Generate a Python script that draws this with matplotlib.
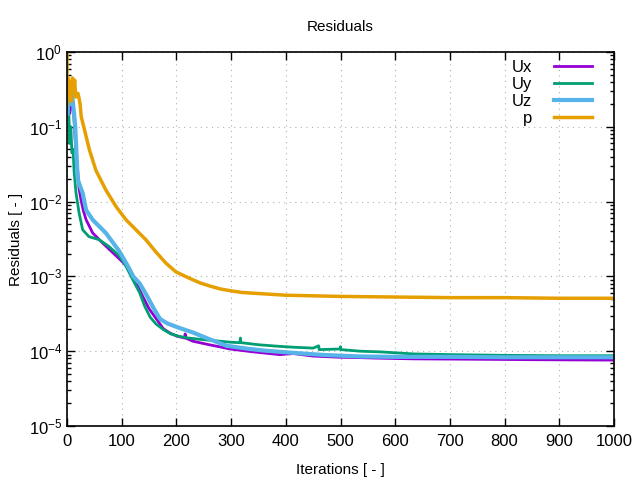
import numpy as np
import matplotlib
matplotlib.use("Agg")
import matplotlib.pyplot as plt
from matplotlib.ticker import LogLocator, LogFormatterSciNotation, NullFormatter, MultipleLocator

# Residual histories
ux_iter = [1, 5, 10, 13, 16, 19.5, 22, 25.6, 30, 35, 47, 65, 83, 102, 115, 127, 139, 150,
           165, 176, 188, 200, 215, 216, 217, 230, 260, 280, 298, 340, 389, 414, 450, 499, 536,
           560, 633, 750, 850, 1000]
ux_res = [0.2, 0.15, 0.25, 0.12, 0.05, 0.026, 0.015, 0.0105, 0.0075, 0.0057, 0.0038, 0.0028,
          0.0021, 0.00155, 0.00122, 0.0008, 0.00053, 0.00037, 0.00026, 0.0002, 0.000175,
          0.00016, 0.00015, 0.00017, 0.00015, 0.000136, 0.000122, 0.000114, 0.000107, 9.8e-5,
          9.0e-5, 9.3e-5, 8.6e-5, 8.3e-5, 8.2e-5, 8.1e-5, 7.9e-5, 7.8e-5, 7.7e-5, 7.6e-5]

uy_iter = [1, 3, 5, 7, 9, 11, 13, 16.5, 22, 28.6, 40, 58.6, 77, 95, 105, 113, 124,
           133, 142, 152, 163, 176, 190, 205, 219, 240, 270, 298, 316, 317, 318, 350, 389, 414,
           450, 460, 461, 499, 500, 501, 536, 572, 633, 700, 800, 900, 1000]
uy_res = [0.25, 0.18, 0.06, 0.1, 0.045, 0.05, 0.025, 0.013, 0.0071, 0.0042, 0.0034, 0.0031,
          0.0025, 0.0019, 0.0015, 0.00115, 0.0008, 0.0006, 0.0004,
          0.000285, 0.00023, 0.000195, 0.00017, 0.000158, 0.000151, 0.000145, 0.000138, 0.000132,
          0.00013, 0.00015, 0.00013, 0.000122, 0.000116, 0.000113, 0.00011, 0.000118, 0.000105,
          0.000107, 0.000115, 0.000105, 0.0001, 9.8e-5, 9.2e-5, 9.0e-5, 8.8e-5, 8.7e-5, 8.7e-5]

uz_iter = [1, 3, 5, 7, 9, 11, 13, 15, 17, 19.5, 24, 28.6, 35, 47, 71, 95, 104, 113,
           121, 133, 145, 157, 170, 183, 205, 230, 260, 292, 330, 360, 414, 470, 536, 600, 700,
           800, 1000]
uz_res = [0.15, 0.3, 0.2, 0.28, 0.28, 0.2, 0.15, 0.1, 0.05, 0.02, 0.016, 0.013, 0.0077,
          0.0057, 0.0038, 0.0022, 0.0017, 0.0013, 0.001, 0.0008, 0.00057,
          0.00039, 0.00027, 0.000236, 0.000205, 0.000178, 0.000145, 0.000118, 0.000108, 0.000102,
          9.5e-5, 8.9e-5, 8.5e-5, 8.4e-5, 8.4e-5, 8.3e-5, 8.3e-5]

p_iter = [0, 0, 2, 4, 6, 8, 10, 12, 14, 16, 18, 20, 22, 24, 26, 32, 41, 53, 71, 90, 108, 126,
          144, 163, 181, 199, 223, 243, 262, 280, 300, 320, 350, 400, 450, 500, 600, 700, 800,
          900, 1000]
p_res = [1.0, 0.2, 0.45, 0.25, 0.4, 0.22, 0.45, 0.3, 0.42, 0.25, 0.27, 0.28, 0.24, 0.2, 0.136,
         0.091, 0.049, 0.026, 0.0143, 0.0085, 0.0057, 0.0042, 0.0031, 0.0021, 0.0015, 0.00115,
         0.00095, 0.00082, 0.00074, 0.00068, 0.00064, 0.00061, 0.00059, 0.00056, 0.00055,
         0.00054, 0.00053, 0.00052, 0.00052, 0.00051, 0.00051]

plt.rcParams["font.family"] = ["Liberation Sans", "DejaVu Sans"]
plt.rcParams["mathtext.fontset"] = "custom"
plt.rcParams["mathtext.rm"] = "Liberation Sans"
plt.rcParams["mathtext.it"] = "Liberation Sans"

fig = plt.figure(figsize=(6.4, 4.8), dpi=100)
ax = fig.add_axes([0.1047, 0.1125, 0.8547, 0.7792])

ax.plot(ux_iter, ux_res, color="#9400d3", lw=2, label="Ux")
ax.plot(uy_iter, uy_res, color="#009e73", lw=2, label="Uy")
ax.plot(uz_iter, uz_res, color="#56b4e9", lw=3, label="Uz")
ax.plot(p_iter, p_res, color="#e69f00", lw=2.5, label="p")

ax.set_yscale("log")
ax.set_xlim(0, 1000)
ax.set_ylim(1e-5, 1)
ax.xaxis.set_major_locator(MultipleLocator(100))
ax.yaxis.set_major_locator(LogLocator(base=10, numticks=10))
ax.yaxis.set_major_formatter(LogFormatterSciNotation())
ax.yaxis.set_minor_locator(LogLocator(base=10, subs=np.arange(2, 10), numticks=20))
ax.yaxis.set_minor_formatter(NullFormatter())

ax.tick_params(which="both", direction="in", top=True, right=True, labelsize=12)
ax.tick_params(axis="x", pad=6)
ax.tick_params(which="major", length=6, width=1)
ax.tick_params(which="minor", length=3, width=1)
for s in ax.spines.values():
    s.set_linewidth(1.2)

ax.grid(True, which="major", linestyle=(0, (1, 4)), color="#b0b0b0", linewidth=0.8)

ax.set_title("Residuals", fontsize=11, pad=15)
ax.set_xlabel("Iterations [ - ]", fontsize=11, labelpad=10)
ax.set_ylabel("Residuals [ - ]", fontsize=11)

ax.legend(loc="upper right", bbox_to_anchor=(0.978, 1.006), frameon=False, markerfirst=False,
          fontsize=12, handlelength=2.3, labelspacing=0.12, handletextpad=1.3, borderaxespad=0.2)

fig.savefig("out.png", dpi=100)
